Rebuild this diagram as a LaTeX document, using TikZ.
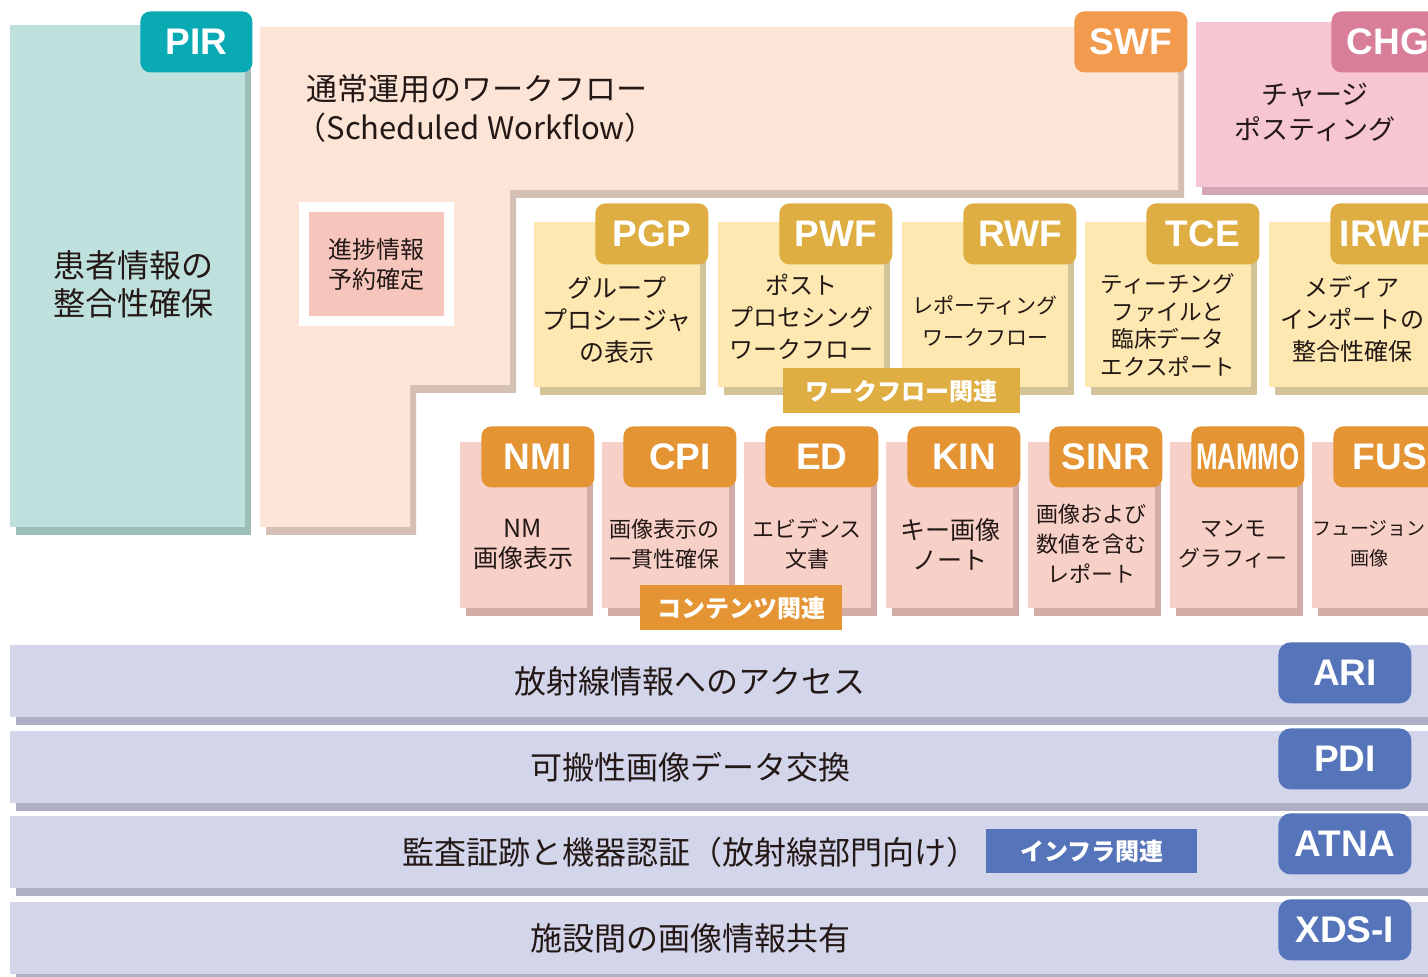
\documentclass[tikz,border=0pt]{standalone}
\usepackage{fontspec}
\setmainfont{Noto Sans CJK JP}
\newfontfamily\tagfont{Liberation Sans}
\newfontfamily\tagnarrow{Liberation Sans}[FakeStretch=0.7]
\usetikzlibrary{shadows}

\definecolor{inktext}{HTML}{231815}
\definecolor{pirpanel}{HTML}{BEE1DE}
\definecolor{pirshade}{HTML}{9DBDB8}
\definecolor{pirtag}{HTML}{0AAAB5}
\definecolor{swfpanel}{HTML}{FCE4D6}
\definecolor{swfshade}{HTML}{D4C0B5}
\definecolor{swftag}{HTML}{F29B4E}
\definecolor{chgpanel}{HTML}{F7C6D3}
\definecolor{chgshade}{HTML}{D2A6B4}
\definecolor{chgtag}{HTML}{D87E98}
\definecolor{resvpanel}{HTML}{F6C6BD}
\definecolor{wfpanel}{HTML}{FDE8B1}
\definecolor{wfshade}{HTML}{D3C398}
\definecolor{wftag}{HTML}{DEAE42}
\definecolor{ctpanel}{HTML}{F7D0C8}
\definecolor{ctshade}{HTML}{D2ADA8}
\definecolor{cttag}{HTML}{E49432}
\definecolor{infpanel}{HTML}{D3D5EB}
\definecolor{infshade}{HTML}{ADAFC2}
\definecolor{inftag}{HTML}{5674B9}

\begin{document}
\begin{tikzpicture}[x=0.5pt,y=-0.5pt,
    every node/.style={inner sep=0pt,text=inktext},
    codetag/.style={rounded corners=5pt,anchor=north west,minimum width=56.5pt,minimum height=30.5pt,text=white,font=\tagfont\bfseries\fontsize{18.5}{20}\selectfont},
    bigtag/.style={codetag,rounded corners=6pt,minimum width=66.5pt,fill=inftag},
    boxshadow/.style={drop shadow={shadow xshift=3pt,shadow yshift=-4pt,fill=#1,opacity=1}},
    wfbox/.style={fill=wfpanel,boxshadow=wfshade,anchor=north west,minimum width=83pt,minimum height=82.5pt},
    ctbox/.style={fill=ctpanel,boxshadow=ctshade,anchor=north west,minimum width=63.5pt,minimum height=83pt},
    band/.style={fill=infpanel,boxshadow=infshade,anchor=north west,minimum width=720pt,minimum height=36pt},
    wftext/.style={align=center,font=\fontsize{12}{16}\selectfont},
    cttext/.style={align=center,font=\fontsize{11}{15}\selectfont},
    bandtext/.style={font=\fontsize{16}{18}\selectfont},
    grouplabel/.style={anchor=north west,minimum height=22.5pt,text=white,font=\bfseries\fontsize{12}{14}\selectfont},
  ]
    \useasboundingbox (0,0) rectangle (1428,977);
    \clip (0,0) rectangle (1428,977);
    \fill[white] (0,0) rectangle (1428,977);

    % PIR
    \node[fill=pirpanel,boxshadow=pirshade,anchor=north west,minimum width=117.5pt,minimum height=251pt] (pirbox) at (10,25) {};
    \node[codetag,fill=pirtag,minimum width=56pt] (pir) at (140,11) {PIR};
    \node[align=center,font=\fontsize{16}{19}\selectfont] (pirtext) at (133,284) {患者情報の\\整合性確保};

    % SWF
    \begin{scope}[shift={(6,8)}]
        \fill[swfshade] (260,27) -- (1178,27) -- (1178,190) -- (510,190) -- (510,385) -- (410,385) -- (410,527) -- (260,527) -- cycle;
    \end{scope}
    \fill[swfpanel] (260,27) -- (1178,27) -- (1178,190) -- (510,190) -- (510,385) -- (410,385) -- (410,527) -- (260,527) -- cycle;
    \node[codetag,fill=swftag] (swf) at (1074,11) {SWF};
    \node[anchor=west,align=left,font=\fontsize{15.5}{19.5}\selectfont] (swftext) at (306,108) {通常運用のワークフロー\\\hspace*{-0.35em}（Scheduled Workflow）};
    % label
    \node[fill=resvpanel,draw=white,line width=5pt,minimum width=72.5pt,minimum height=57pt,align=center,font=\fontsize{12}{15}\selectfont] (resv) at (376,264) {進捗情報\\予約確定};

    % CHG
    \node[fill=chgpanel,boxshadow=chgshade,anchor=north west,minimum width=130pt,minimum height=82.5pt] (chgbox) at (1196,22) {};
    \node[codetag,fill=chgtag] (chg) at (1331,11) {CHG};
    \node[align=center,font=\fontsize{13.5}{17.5}\selectfont] (chgtext) at (1315,112) {チャージ\\ポスティング};

    % workflow
    \node[wfbox] (pgpbox) at (534,222) {};
    \node[codetag,fill=wftag] (pgp) at (595,203) {PGP};
    \node[wftext,font=\fontsize{12.5}{16}\selectfont] (pgptext) at (617,320) {グループ\\プロシージャ\\の表示};

    \node[wfbox] (pwfbox) at (718,222) {};
    \node[codetag,fill=wftag] (pwf) at (779,203) {PWF};
    \node[wftext] (pwftext) at (801,317) {ポスト\\プロセシング\\ワークフロー};

    \node[wfbox] (rwfbox) at (902,222) {};
    \node[codetag,fill=wftag] (rwf) at (963,203) {RWF};
    \node[wftext,font=\fontsize{10.5}{16}\selectfont] (rwftext) at (985,321) {レポーティング\\ワークフロー};

    \node[wfbox] (tcebox) at (1085,222) {};
    \node[codetag,fill=wftag] (tce) at (1146,203) {TCE};
    \node[wftext,font=\fontsize{11.3}{13.8}\selectfont] (tcetext) at (1168,325) {ティーチング\\ファイルと\\臨床データ\\エクスポート};

    \node[wfbox] (irwfbox) at (1269,222) {};
    \node[codetag,fill=wftag] (irwf) at (1330,203) {IRWF};
    \node[wftext] (irwftext) at (1352,319) {メディア\\インポートの\\整合性確保};

    \node[grouplabel,fill=wftag,minimum width=118.5pt] (wfgroup) at (783,368) {ワークフロー関連};

    % content
    \node[ctbox] (nmibox) at (460,442) {};
    \node[codetag,fill=cttag] (nmi) at (481,426) {NMI};
    \node[cttext,font=\fontsize{12.5}{15}\selectfont] (nmitext) at (523,544) {NM\\画像表示};

    \node[ctbox] (cpibox) at (602,442) {};
    \node[codetag,fill=cttag] (cpi) at (623,426) {CPI};
    \node[cttext] (cpitext) at (664,544) {画像表示の\\一貫性確保};

    \node[ctbox] (edbox) at (744,442) {};
    \node[codetag,fill=cttag] (ed) at (765,426) {ED};
    \node[cttext] (edtext) at (807,544) {エビデンス\\文書};

    \node[ctbox] (kinbox) at (886,442) {};
    \node[codetag,fill=cttag] (kin) at (907,426) {KIN};
    \node[cttext,font=\fontsize{12.5}{15}\selectfont] (kintext) at (950,544) {キー画像\\ノート};

    \node[ctbox] (sinrbox) at (1028,442) {};
    \node[codetag,fill=cttag] (sinr) at (1049,426) {SINR};
    \node[cttext] (sinrtext) at (1091,544) {画像および\\数値を含む\\レポート};

    \node[ctbox] (mammobox) at (1170,442) {};
    \node[codetag,fill=cttag,font=\tagnarrow\bfseries\fontsize{18.5}{20}\selectfont] (mammo) at (1191,426) {MAMMO};
    \node[cttext] (mammotext) at (1233,544) {マンモ\\グラフィー};

    \node[ctbox] (fusbox) at (1312,442) {};
    \node[codetag,fill=cttag] (fus) at (1333,426) {FUS};
    \node[cttext,font=\fontsize{9.5}{15}\selectfont] (fustext) at (1369,544) {フュージョン\\画像};

    \node[grouplabel,fill=cttag,minimum width=101pt] (ctgroup) at (640,585) {コンテンツ関連};

    % infrastructure
    \node[band] (aribox) at (10,645) {};
    \node[bandtext] (aritext) at (690,681) {放射線情報へのアクセス};
    \node[bigtag] (ari) at (1278,642) {ARI};

    \node[band] (pdibox) at (10,731) {};
    \node[bandtext] (pditext) at (690,767) {可搬性画像データ交換};
    \node[bigtag] (pdi) at (1278,728) {PDI};

    \node[band] (atnabox) at (10,816) {};
    \node[bandtext] (atnatext) at (690,852) {監査証跡と機器認証（放射線部門向け）};
    \node[bigtag] (atna) at (1278,813) {ATNA};
    \node[grouplabel,fill=inftag,minimum width=105.5pt,minimum height=22pt] (infgroup) at (986,829) {インフラ関連};

    \node[band] (xdsibox) at (10,902) {};
    \node[bandtext] (xdsitext) at (690,938) {施設間の画像情報共有};
    \node[bigtag] (xdsi) at (1278,899) {XDS-I};
\end{tikzpicture}
\end{document}
